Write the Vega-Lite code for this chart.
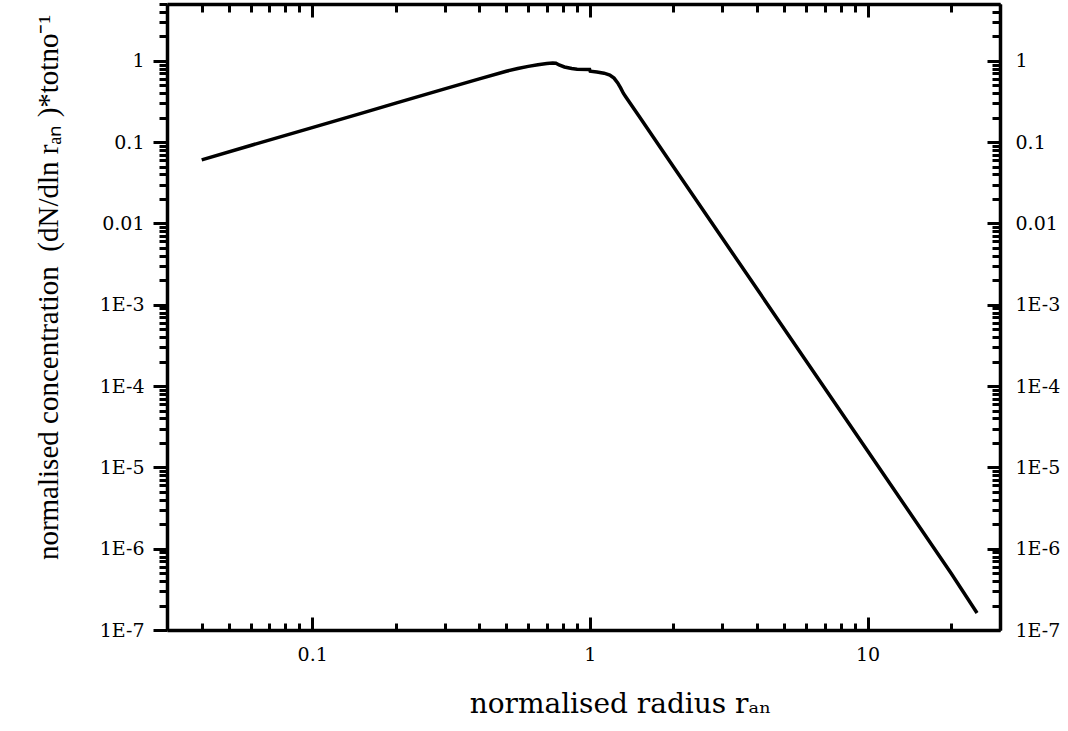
{
  "$schema": "https://vega.github.io/schema/vega-lite/v6.json",
  "autosize": "none",
  "padding": {"left": 167, "top": 4, "right": 68, "bottom": 101},
  "width": 833,
  "height": 626,
  "background": "white",
  "config": {"view": {"stroke": null}},
  "data": {"values": [
    {"r": 0.04, "c": 0.0606}, {"r": 0.06, "c": 0.091}, {"r": 0.1, "c": 0.151}, {"r": 0.15, "c": 0.226},
    {"r": 0.2, "c": 0.302}, {"r": 0.3, "c": 0.452}, {"r": 0.4, "c": 0.6}, {"r": 0.5, "c": 0.745},
    {"r": 0.55, "c": 0.805}, {"r": 0.6, "c": 0.855}, {"r": 0.65, "c": 0.895}, {"r": 0.7, "c": 0.925},
    {"r": 0.735, "c": 0.94}, {"r": 0.755, "c": 0.935}, {"r": 0.775, "c": 0.89}, {"r": 0.81, "c": 0.84},
    {"r": 0.86, "c": 0.805}, {"r": 0.9, "c": 0.79}, {"r": 0.998, "c": 0.785}, {"r": 1.003, "c": 0.745},
    {"r": 1.06, "c": 0.73}, {"r": 1.125, "c": 0.705}, {"r": 1.18, "c": 0.67}, {"r": 1.222, "c": 0.613},
    {"r": 1.26, "c": 0.535}, {"r": 1.292, "c": 0.462}, {"r": 1.32, "c": 0.4}, {"r": 1.346, "c": 0.362},
    {"r": 1.5, "c": 0.2106}, {"r": 2, "c": 0.04997}, {"r": 3, "c": 0.00658}, {"r": 5, "c": 0.000512},
    {"r": 10, "c": 0.000016}, {"r": 20, "c": 0.0000005}, {"r": 24.8, "c": 0.000000162}
  ]},
  "layer": [
    {
      "mark": {"type": "line", "color": "black", "strokeWidth": 3.5, "clip": true},
      "encoding": {
        "x": {"field": "r", "type": "quantitative",
          "scale": {"type": "log", "domain": [0.03, 30], "nice": false},
          "axis": {
            "orient": "bottom",
            "values": [0.03,0.04,0.05,0.06,0.07,0.08,0.09,0.1,0.2,0.3,0.4,0.5,0.6,0.7,0.8,0.9,1,2,3,4,5,6,7,8,9,10,20,30],
            "labelExpr": "abs(log(datum.value)/LN10 - round(log(datum.value)/LN10)) < 1e-6 ? ('' + datum.value) : ''",
            "labelOverlap": false, "labelBound": false, "labelFlush": false,
            "grid": false,
            "domainColor": "black", "domainWidth": 3.5,
            "tickColor": "black", "tickWidth": 3,
            "tickSize": {"condition": {"test": "abs(log(datum.value)/LN10 - round(log(datum.value)/LN10)) < 1e-6", "value": -13}, "value": -7},
            "labelFont": "DejaVu Serif", "labelFontSize": 19, "labelColor": "black", "labelPadding": 28,
            "title": "normalised radius rₐₙ",
            "titleFont": "DejaVu Serif", "titleFontSize": 28, "titleFontWeight": "normal", "titleColor": "black",
            "titleX": 453, "titleY": 82, "titleBaseline": "alphabetic", "titleAlign": "center"
          }
        },
        "y": {"field": "c", "type": "quantitative",
          "scale": {"type": "log", "domain": [1e-7, 5], "nice": false},
          "axis": {
            "orient": "left",
            "values": [1e-7,2e-7,3e-7,4e-7,5e-7,6e-7,7e-7,8e-7,9e-7,1e-6,2e-6,3e-6,4e-6,5e-6,6e-6,7e-6,8e-6,9e-6,1e-5,2e-5,3e-5,4e-5,5e-5,6e-5,7e-5,8e-5,9e-5,1e-4,2e-4,3e-4,4e-4,5e-4,6e-4,7e-4,8e-4,9e-4,1e-3,2e-3,3e-3,4e-3,5e-3,6e-3,7e-3,8e-3,9e-3,0.01,0.02,0.03,0.04,0.05,0.06,0.07,0.08,0.09,0.1,0.2,0.3,0.4,0.5,0.6,0.7,0.8,0.9,1,2,3,4,5],
            "labelExpr": "abs(log(datum.value)/LN10 - round(log(datum.value)/LN10)) < 1e-6 ? (datum.value >= 0.01 ? ('' + datum.value) : ('1E' + round(log(datum.value)/LN10))) : ''",
            "labelOverlap": false, "labelBound": false, "labelFlush": false,
            "grid": false,
            "domainColor": "black", "domainWidth": 3.5,
            "tickColor": "black", "tickWidth": 3,
            "tickSize": {"condition": {"test": "abs(log(datum.value)/LN10 - round(log(datum.value)/LN10)) < 1e-6", "value": 14}, "value": 8},
            "labelFont": "DejaVu Serif", "labelFontSize": 19, "labelColor": "black", "labelPadding": 9,
            "title": "normalised concentration\u00a0 (dN/dln rₐₙ )*totno⁻¹",
            "titleFont": "Liberation Serif", "titleFontSize": 29, "titleFontWeight": "normal", "titleColor": "black",
            "titleX": -110, "titleY": 283, "titleAngle": -90, "titleBaseline": "alphabetic", "titleAlign": "center"
          }
        }
      }
    },
    {
      "mark": {"type": "line", "color": "black", "strokeWidth": 3.5, "opacity": 0},
      "encoding": {
        "x": {"field": "r", "type": "quantitative",
          "scale": {"type": "log", "domain": [0.03, 30], "nice": false},
          "axis": {
            "orient": "top",
            "values": [0.03,0.04,0.05,0.06,0.07,0.08,0.09,0.1,0.2,0.3,0.4,0.5,0.6,0.7,0.8,0.9,1,2,3,4,5,6,7,8,9,10,20,30],
            "labels": false, "title": null, "grid": false,
            "domainColor": "black", "domainWidth": 3.5,
            "tickColor": "black", "tickWidth": 3,
            "tickSize": {"condition": {"test": "abs(log(datum.value)/LN10 - round(log(datum.value)/LN10)) < 1e-6", "value": -13}, "value": -8}
          }
        },
        "y": {"field": "c", "type": "quantitative",
          "scale": {"type": "log", "domain": [1e-7, 5], "nice": false},
          "axis": {
            "orient": "right",
            "values": [1e-7,2e-7,3e-7,4e-7,5e-7,6e-7,7e-7,8e-7,9e-7,1e-6,2e-6,3e-6,4e-6,5e-6,6e-6,7e-6,8e-6,9e-6,1e-5,2e-5,3e-5,4e-5,5e-5,6e-5,7e-5,8e-5,9e-5,1e-4,2e-4,3e-4,4e-4,5e-4,6e-4,7e-4,8e-4,9e-4,1e-3,2e-3,3e-3,4e-3,5e-3,6e-3,7e-3,8e-3,9e-3,0.01,0.02,0.03,0.04,0.05,0.06,0.07,0.08,0.09,0.1,0.2,0.3,0.4,0.5,0.6,0.7,0.8,0.9,1,2,3,4,5],
            "labelExpr": "abs(log(datum.value)/LN10 - round(log(datum.value)/LN10)) < 1e-6 ? (datum.value >= 0.01 ? ('' + datum.value) : ('1E' + round(log(datum.value)/LN10))) : ''",
            "labelOverlap": false, "labelBound": false, "labelFlush": false,
            "title": null, "grid": false,
            "domainColor": "black", "domainWidth": 3.5,
            "tickColor": "black", "tickWidth": 3,
            "tickSize": {"condition": {"test": "abs(log(datum.value)/LN10 - round(log(datum.value)/LN10)) < 1e-6", "value": -13}, "value": -8},
            "labelFont": "DejaVu Serif", "labelFontSize": 19, "labelColor": "black", "labelPadding": 28
          }
        }
      }
    }
  ],
  "resolve": {"axis": {"x": "independent", "y": "independent"}}
}
